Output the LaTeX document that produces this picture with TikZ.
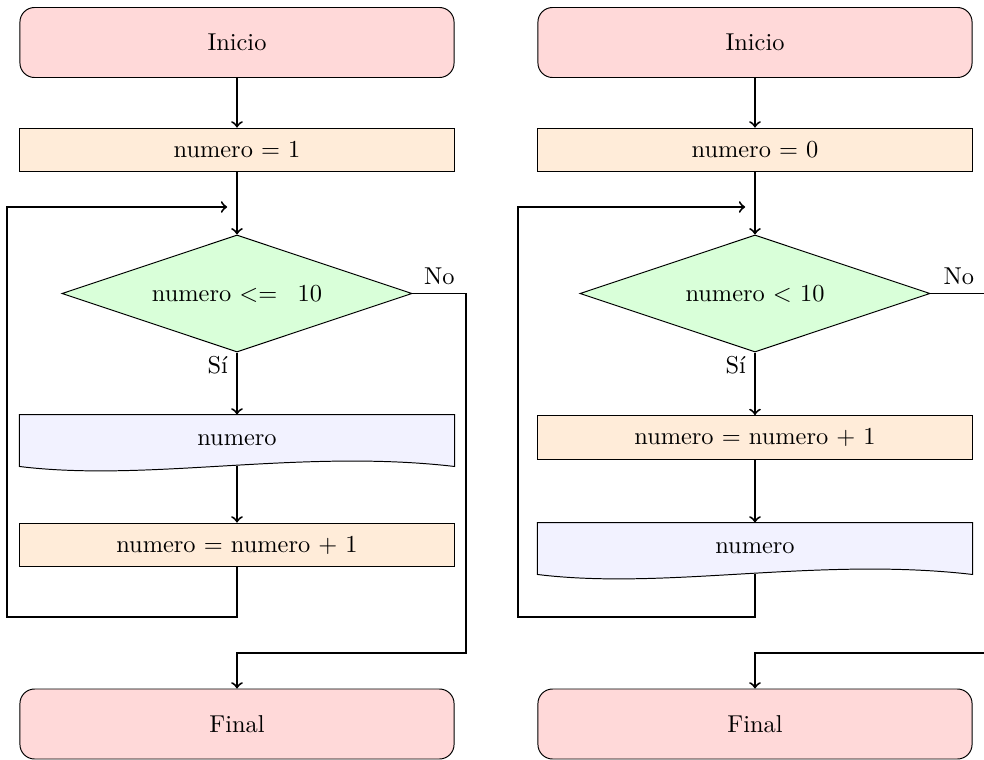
\documentclass[tikz,border=0pt]{standalone}
\usetikzlibrary{shapes.geometric,calc,backgrounds}

\tikzstyle{terminal} = [rectangle, rounded corners=6pt, draw, fill=red!15, minimum width=178pt, minimum height=28.7pt]
\tikzstyle{proceso} = [rectangle, draw, fill=orange!15, minimum width=178pt, minimum height=18pt]
\tikzstyle{decision} = [diamond, draw, fill=green!15, aspect=3, minimum width=143.5pt, minimum height=48pt, inner sep=0pt]
\tikzstyle{salida} = [rectangle, minimum width=178pt, minimum height=20.9pt]
\tikzstyle{hoja} = [draw, fill=blue!5]
\tikzstyle{flecha} = [thick, ->]

\begin{document}
\begin{tikzpicture}[x=0.41pt, y=-0.41pt]
\useasboundingbox (0,0) rectangle (984,760);

% diagrama izquierdo
\node[terminal] (ini1) at (237,42.5) {Inicio};
\node[proceso] (asig1) at (237,150) {numero $=$ 1};
\node[decision] (cond1) at (237,293.5) {numero $<=$\hspace{5pt} 10};
\node[salida] (sal1) at (237,440.5) {numero};
\node[proceso] (inc1) at (237,545) {numero $=$ numero $+$ 1};
\node[terminal] (fin1) at (237,724) {Final};
\coordinate (union1) at (237,207);
\coordinate (bucle1) at (7,617);
\coordinate (no1) at (466,653);

\begin{scope}[on background layer]
\draw[hoja] (sal1.south west) -- (sal1.north west) -- (sal1.north east) -- (sal1.south east)
    .. controls ($(sal1.south east)+(-155,-18)$) and ($(sal1.south west)+(130,16)$) .. (sal1.south west) -- cycle;
\end{scope}

\draw[flecha] (ini1) -- (asig1);
\draw[flecha] (asig1) -- (cond1);
\draw[flecha] (cond1) -- node[pos=0.2, left] {Sí} (sal1);
\draw[flecha] (sal1) -- (inc1);
\draw[flecha, shorten >=4pt] (inc1.south) |- (bucle1) |- (union1);
\draw[flecha] (cond1.east) -| node[pos=0.25, above] {No} (no1) -| (fin1.north);

% diagrama derecho
\node[terminal] (ini2) at (755,42.5) {Inicio};
\node[proceso] (asig2) at (755,150) {numero $=$ 0};
\node[decision] (cond2) at (755,293.5) {numero $<$ 10};
\node[proceso] (inc2) at (755,437.5) {numero $=$ numero $+$ 1};
\node[salida] (sal2) at (755,548.5) {numero};
\node[terminal] (fin2) at (755,724) {Final};
\coordinate (union2) at (755,207);
\coordinate (bucle2) at (518,617);
\coordinate (no2) at (987,653);

\begin{scope}[on background layer]
\draw[hoja] (sal2.south west) -- (sal2.north west) -- (sal2.north east) -- (sal2.south east)
    .. controls ($(sal2.south east)+(-155,-18)$) and ($(sal2.south west)+(130,16)$) .. (sal2.south west) -- cycle;
\end{scope}

\draw[flecha] (ini2) -- (asig2);
\draw[flecha] (asig2) -- (cond2);
\draw[flecha] (cond2) -- node[pos=0.2, left] {Sí} (inc2);
\draw[flecha] (inc2) -- (sal2);
\draw[flecha, shorten >=4pt] (sal2.south) |- (bucle2) |- (union2);
\draw[flecha] (cond2.east) -| node[pos=0.25, above] {No} (no2) -| (fin2.north);
\end{tikzpicture}
\end{document}
